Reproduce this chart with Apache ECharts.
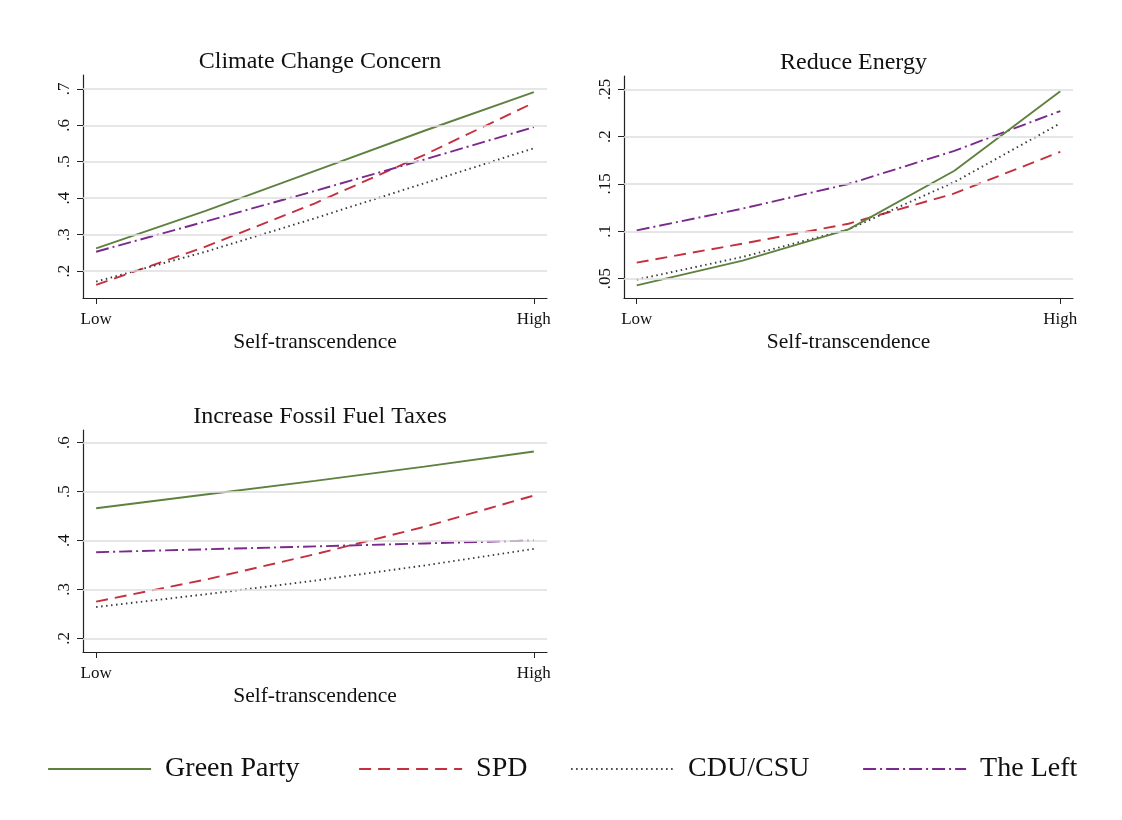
<!DOCTYPE html>
<html><head><meta charset="utf-8">
<script src="https://cdn.jsdelivr.net/npm/echarts@6/dist/echarts.min.js"></script>
<style>html,body{margin:0;padding:0;background:#fff}#c{width:1122px;height:820px}</style>
</head><body><div id="c"></div>
<script>
// ---- data ----
const xPoints = [0, 0.25, 0.5, 0.75, 1];
const xTickValues = [0, 1];
const xTickLabels = {0: 'Low', 1: 'High'};
const seriesNames = ['Green Party', 'SPD', 'CDU/CSU', 'The Left'];

const panelTitles = ['Climate Change Concern', 'Reduce Energy', 'Increase Fossil Fuel Taxes'];
const xAxisTitle = 'Self-transcendence';

// Climate Change Concern
const climateGreen = [0.262, 0.365, 0.475, 0.585, 0.691];
const climateSPD   = [0.162, 0.267, 0.386, 0.519, 0.662];
const climateCDU   = [0.171, 0.253, 0.345, 0.441, 0.537];
const climateLeft  = [0.253, 0.336, 0.420, 0.506, 0.595];
const climateTicks = [0.2, 0.3, 0.4, 0.5, 0.6, 0.7];

// Reduce Energy
const energyGreen = [0.043, 0.069, 0.102, 0.164, 0.248];
const energySPD   = [0.067, 0.087, 0.108, 0.140, 0.184];
const energyCDU   = [0.049, 0.073, 0.102, 0.152, 0.214];
const energyLeft  = [0.101, 0.124, 0.150, 0.185, 0.227];
const energyTicks = [0.05, 0.1, 0.15, 0.2, 0.25];

// Increase Fossil Fuel Taxes
const taxGreen = [0.466, 0.494, 0.522, 0.551, 0.582];
const taxSPD   = [0.275, 0.320, 0.372, 0.428, 0.492];
const taxCDU   = [0.264, 0.290, 0.318, 0.349, 0.383];
const taxLeft  = [0.376, 0.382, 0.388, 0.394, 0.400];
const taxTicks = [0.2, 0.3, 0.4, 0.5, 0.6];

// ---- styles ----
const FONT = 'Liberation Serif';
const styles = [
  {color: '#5f8140', type: 'solid'},
  {color: '#c5303f', type: [12, 7]},
  {color: '#3a3a3a', type: [1.5, 3.5]},
  {color: '#7a2a8c', type: [13, 4, 2, 4]}
];

const panels = [
  {data: [climateGreen, climateSPD, climateCDU, climateLeft], ticks: climateTicks, ymin: 0.126, ymax: 0.738,
   grid: {left: 83, top: 75, width: 464, height: 223}},
  {data: [energyGreen, energySPD, energyCDU, energyLeft], ticks: energyTicks, ymin: 0.0296, ymax: 0.264,
   grid: {left: 624, top: 76, width: 449, height: 222}},
  {data: [taxGreen, taxSPD, taxCDU, taxLeft], ticks: taxTicks, ymin: 0.172, ymax: 0.626,
   grid: {left: 83, top: 430, width: 464, height: 222}}
];

function fmtTick(v) {
  let s = String(+v.toFixed(3));
  return s.replace(/^0\./, '.');
}

const grids = [], xAxes = [], yAxes = [], series = [], titles = [];
panels.forEach((p, i) => {
  grids.push(Object.assign({containLabel: false}, p.grid));
  titles.push({
    text: panelTitles[i],
    left: p.grid.left + p.grid.width / 2, top: p.grid.top - 30,
    textAlign: 'center',
    textStyle: {fontFamily: FONT, fontSize: 24, fontWeight: 'normal', color: '#111'}
  });
  xAxes.push({
    type: 'value', gridIndex: i, min: -0.03, max: 1.03,
    name: xAxisTitle, nameLocation: 'middle', nameGap: 33,
    nameTextStyle: {fontFamily: FONT, fontSize: 21.5, color: '#111'},
    axisLine: {show: true, onZero: false, lineStyle: {color: '#222', width: 1.2}},
    axisTick: {show: true, length: 6, customValues: xTickValues, lineStyle: {color: '#222'}},
    axisLabel: {customValues: xTickValues, formatter: v => xTickLabels[v] || '',
      fontFamily: FONT, fontSize: 17, color: '#111', margin: 13},
    splitLine: {show: false}
  });
  yAxes.push({
    type: 'value', gridIndex: i, min: p.ymin, max: p.ymax,
    axisLine: {show: true, onZero: false, lineStyle: {color: '#222', width: 1.2}},
    axisTick: {show: true, length: 6, customValues: p.ticks, lineStyle: {color: '#222'}},
    axisLabel: {customValues: p.ticks, formatter: fmtTick, rotate: 90,
      fontFamily: FONT, fontSize: 17, color: '#111', margin: 10},
    splitLine: {show: false}
  });
  // gridlines from tick values
  series.push({
    type: 'line', xAxisIndex: i, yAxisIndex: i, data: [], silent: true,
    markLine: {silent: true, symbol: 'none', label: {show: false},
      lineStyle: {color: '#dedede', width: 1.5, type: 'solid'},
      data: p.ticks.map(t => ({yAxis: t}))}
  });
  p.data.forEach((vals, k) => {
    series.push({
      name: seriesNames[k], type: 'line', xAxisIndex: i, yAxisIndex: i,
      data: xPoints.map((x, j) => [x, vals[j]]),
      showSymbol: false, symbol: 'none', smooth: false, z: 3 + (k === 0 ? 1 : 0),
      lineStyle: {color: styles[k].color, type: styles[k].type, width: 1.9},
      itemStyle: {color: styles[k].color}
    });
  });
});

const legendLefts = [47, 358, 570, 862];
const legends = seriesNames.map((n, k) => ({
  show: true, padding: 0,
  data: [n], left: legendLefts[k], top: 755, orient: 'horizontal',
  itemWidth: 103, itemHeight: 14, itemGap: 0, selectedMode: false,
  itemStyle: {opacity: 0},
  lineStyle: {width: 2.2},
  textStyle: {fontFamily: FONT, fontSize: 28, color: '#111', padding: [0, 0, 0, 9]}
}));

const chart = echarts.init(document.getElementById('c'), null, {renderer: 'canvas'});
chart.setOption({
  backgroundColor: '#fff',
  animation: false,
  title: titles,
  grid: grids, xAxis: xAxes, yAxis: yAxes,
  legend: legends,
  series: series
});
</script>
</body></html>
